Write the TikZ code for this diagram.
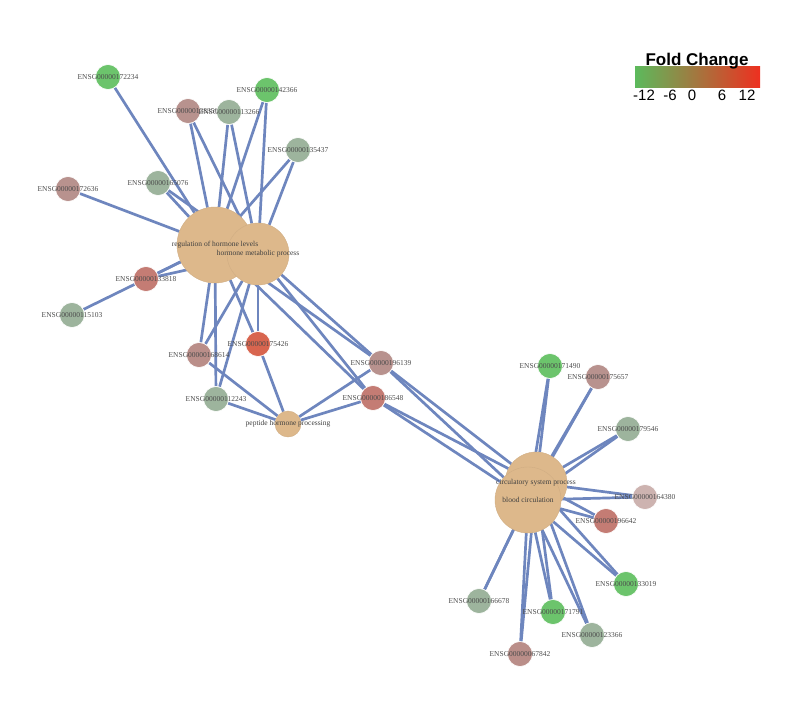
\documentclass[tikz,border=0pt]{standalone}
\usepackage{fontspec}
\setmainfont{Liberation Serif}
\newfontfamily\legendfont{Liberation Sans}
\usetikzlibrary{backgrounds}

\definecolor{fcGreen}{HTML}{6CC46C}
\definecolor{fcSage}{HTML}{9DB49D}
\definecolor{fcMauve}{HTML}{B8928E}
\definecolor{fcRose}{HTML}{C47C74}
\definecolor{fcRed}{HTML}{D8654F}
\definecolor{fcLow}{HTML}{5CBA5C}
\definecolor{fcMid}{HTML}{AAAAAA}
\definecolor{fcHigh}{HTML}{EE3020}
\definecolor{termTan}{HTML}{DDB88B}
\definecolor{edgeBlue}{HTML}{6E86BE}

\tikzset{
  gene/.style={circle, fill=#1, draw=white, line width=0.6pt, minimum size=25pt, inner sep=0pt},
  glab/.style={font=\fontsize{7.5}{8}\selectfont, text=black!70},
  term/.style={circle, fill=termTan, draw=termTan!94!black, line width=0.4pt, minimum size=#1, inner sep=0pt},
  tlab/.style={font=\fontsize{7.5}{8}\selectfont, text=black!75},
  link/.style={edgeBlue, line width=2.7pt},
  ticklab/.style={font=\legendfont\fontsize{15}{16}\selectfont, anchor=base},
}

\begin{document}
\begin{tikzpicture}[x=1pt,y=-1pt]
\useasboundingbox (0,0) rectangle (800,709);

%%%%%%%%%%% terms
\node[term=76pt] (reg) at (215,245) {};
\node[term=62pt] (met) at (258,254) {};
\node[term=26pt] (pep) at (288,424) {};
\node[term=62pt] (circ) at (536,483) {};
\node[term=66pt] (blood) at (528,500) {};

%%%%%%%%%%% genes
% ---------------    hormone side
\node[gene=fcGreen, label={[glab]center:ENSG00000172234}] (e172234) at (108,77) {};
\node[gene=fcMauve, label={[glab]center:ENSG00000138356}] (e138356) at (188,111) {};
\node[gene=fcSage, label={[glab]center:ENSG00000113266}] (e113266) at (229,112) {};
\node[gene=fcGreen, label={[glab]center:ENSG00000142366}] (e142366) at (267,90) {};
\node[gene=fcSage, label={[glab]center:ENSG00000135437}] (e135437) at (298,150) {};
\node[gene=fcSage, label={[glab]center:ENSG00000165076}] (e165076) at (158,183) {};
\node[gene=fcMauve, label={[glab]center:ENSG00000172636}] (e172636) at (68,189) {};
\node[gene=fcSage, label={[glab]center:ENSG00000115103}] (e115103) at (72,315) {};
\node[gene=fcRose, label={[glab]center:ENSG00000133818}] (e133818) at (146,279) {};
\node[gene=fcMauve!80!fcRose, label={[glab]center:ENSG00000168614}] (e168614) at (199,355) {};
\node[gene=fcRed, label={[glab]center:ENSG00000175426}] (e175426) at (258,344) {};
\node[gene=fcSage, label={[glab]center:ENSG00000112243}] (e112243) at (216,399) {};
% ---------------    shared
\node[gene=fcMauve, label={[glab]center:ENSG00000196139}] (e196139) at (381,363) {};
\node[gene=fcRose, label={[glab]center:ENSG00000186548}] (e186548) at (373,398) {};
% ---------------    circulation side
\node[gene=fcGreen, label={[glab]center:ENSG00000171490}] (e171490) at (550,366) {};
\node[gene=fcMauve, label={[glab]center:ENSG00000175657}] (e175657) at (598,377) {};
\node[gene=fcSage, label={[glab]center:ENSG00000179546}] (e179546) at (628,429) {};
\node[gene=fcMauve!70!white, label={[glab]center:ENSG00000164380}] (e164380) at (645,497) {};
\node[gene=fcRose, label={[glab]center:ENSG00000196642}] (e196642) at (606,521) {};
\node[gene=fcGreen, label={[glab]center:ENSG00000133019}] (e133019) at (626,584) {};
\node[gene=fcSage, label={[glab]center:ENSG00000166678}] (e166678) at (479,601) {};
\node[gene=fcGreen, label={[glab]center:ENSG00000171791}] (e171791) at (553,612) {};
\node[gene=fcSage, label={[glab]center:ENSG00000123366}] (e123366) at (592,635) {};
\node[gene=fcMauve!80!fcRose, label={[glab]center:ENSG00000067842}] (e067842) at (520,654) {};

%%%%%%%%%%% links
\begin{scope}[on background layer]
\foreach \g in {e172234,e172636,e115103}{
  \draw[link] (\g) -- (reg);
}
\foreach \g in {e138356,e113266,e142366,e135437,e165076,e133818,e168614,e175426,e112243,e196139,e186548}{
  \draw[link] (\g) -- (reg);
  \draw[link] (\g) -- (met);
}
\foreach \g in {e168614,e175426,e112243,e196139,e186548}{
  \draw[link] (\g) -- (pep);
}
\foreach \g in {e196139,e186548,e171490,e175657,e179546,e164380,e196642,e133019,e166678,e171791,e123366,e067842}{
  \draw[link] (\g) -- (circ);
  \draw[link] (\g) -- (blood);
}
\end{scope}

%%%%%%%%%%% term labels
\node[tlab] (regtxt) at (reg.center) {regulation of hormone levels};
\node[tlab] (mettxt) at (met.center) {hormone metabolic process};
\node[tlab] (peptxt) at (pep.center) {peptide hormone processing};
\node[tlab] (circtxt) at (circ.center) {circulatory system process};
\node[tlab] (bloodtxt) at (blood.center) {blood circulation};

%%%%%%%%%%% legend
\node[minimum width=125pt, minimum height=20pt, inner sep=0pt,
      left color=fcLow, middle color=fcMid, right color=fcHigh] (fcbar) at (697.5,77) {};
\node[font=\legendfont\bfseries\fontsize{17}{18}\selectfont, anchor=base] (fctitle) at (697,66) {Fold Change};
\node[ticklab] (t1) at (644,100) {-12};
\node[ticklab] (t2) at (670,100) {-6};
\node[ticklab] (t3) at (692,100) {0};
\node[ticklab] (t4) at (722,100) {6};
\node[ticklab] (t5) at (747,100) {12};
\end{tikzpicture}
\end{document}
